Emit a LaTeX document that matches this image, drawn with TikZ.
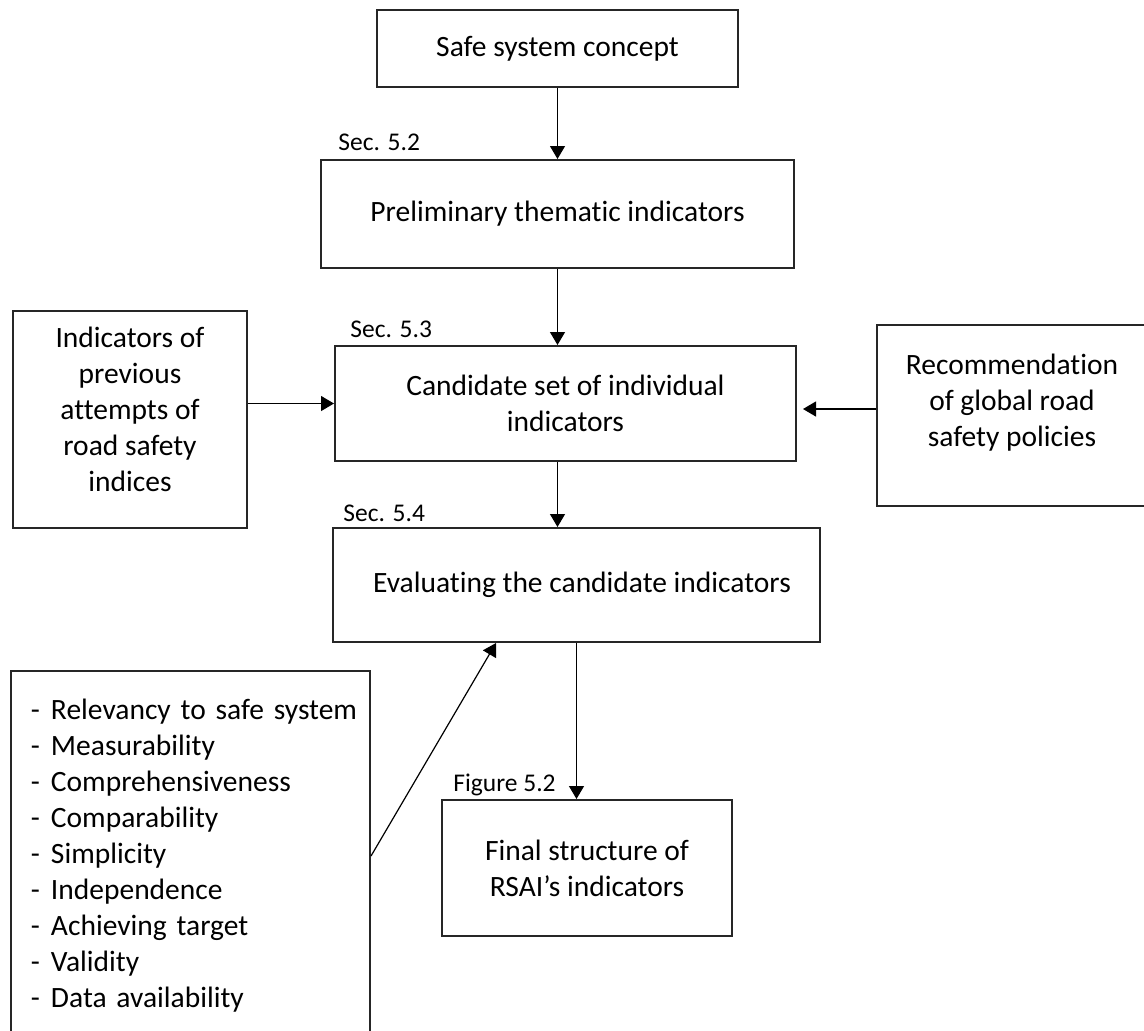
\documentclass[tikz,border=0pt]{standalone}
\usepackage{fontspec}
\setmainfont{Carlito}[Ligatures={NoCommon}]
\usetikzlibrary{arrows.meta}
\newcommand\mainfs{\fontsize{14.75}{18}\selectfont}
\newcommand\secfs{\fontsize{12.75}{15}\selectfont}
\newcommand\critem[1]{\hspace*{5pt}\makebox[10pt][l]{-}#1}
\begin{document}
\begin{tikzpicture}[x=0.5pt,y=-0.5pt,
  box/.style={draw=black!85, line width=1pt, inner sep=0pt, align=center, font=\mainfs},
  lbl/.style={anchor=base west, inner sep=0pt, font=\secfs},
  arr/.style={draw=black, line width=0.6pt, -{Triangle[length=6.5pt,width=7.5pt]}}]
\useasboundingbox (0,0) rectangle (1144,1030);

% main flow
\node[box, minimum width=180.5pt, minimum height=38.5pt] (safe) at (557.5,48.5) {Safe system concept};
\node[box, minimum width=236.5pt, minimum height=54pt] (prelim) at (557.5,214) {Preliminary thematic indicators};
\node[box, minimum width=230.5pt, minimum height=57.5pt] (cand) at (565.5,403.5) {Candidate set of individual\\indicators};
\node[box, minimum width=243.5pt, minimum height=57pt] (eval) at (576.5,585) {\hspace*{5.5pt}Evaluating the candidate indicators};
\node[box, minimum width=145pt, minimum height=68pt] (final) at (587,868) {Final structure of\\RSAI’s indicators};

% side inputs
\node[box, minimum width=117pt, minimum height=108.5pt] (prev) at (130,419.5) {Indicators of\\previous\\attempts of\\road safety\\indices\\[-8pt]\mbox{}};
\node[box, minimum width=135pt, minimum height=90.5pt] (rec) at (1012,415.5) {Recommendation\\of global road\\safety policies\\[-3pt]\mbox{}};
\node[box, anchor=north west, minimum width=179.5pt, minimum height=185pt, text width=169.5pt, align=left, inner xsep=5pt] (crit) at (10,670)
  {\critem{Relevancy to safe system}\\
   \critem{Measurability}\\
   \critem{Comprehensiveness}\\
   \critem{Comparability}\\
   \critem{Simplicity}\\
   \critem{Independence}\\
   \critem{Achieving target}\\
   \critem{Validity}\\
   \critem{Data availability}};

% section references
\node[lbl] (s52) at (338,150) {Sec. 5.2};
\node[lbl] (s53) at (350,337) {Sec. 5.3};
\node[lbl] (s54) at (343,521) {Sec. 5.4};
\node[lbl] (f52) at (453,791) {Figure 5.2};

% connectors
\draw[arr] (safe) -- (prelim);
\draw[arr] (prelim.south) -- (prelim.south |- cand.north);
\draw[arr] (prelim.south |- cand.south) -- (prelim.south |- eval.north);
\draw[arr] (prev.east |- cand.west) -- (cand.west);
\coordinate (recin) at ([yshift=-2.75pt,xshift=3pt]cand.east);
\draw[arr] (rec.west |- recin) -- (recin);
\draw[arr] (eval.south) -- (eval.south |- final.north);
\draw[arr] (crit.east) -- ([xshift=-40.25pt]eval.south);
\end{tikzpicture}
\end{document}
